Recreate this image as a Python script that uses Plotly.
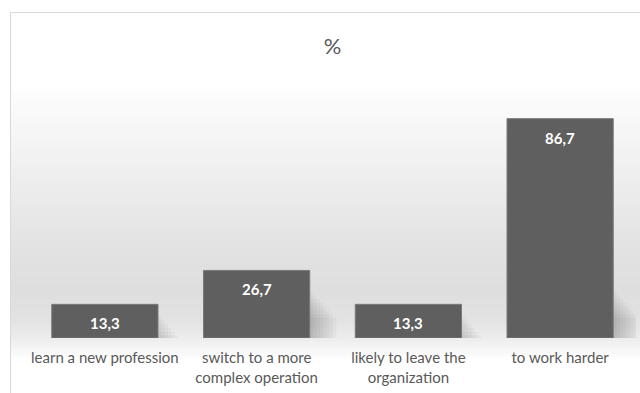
import numpy as np
import plotly.graph_objects as go

categories = ["learn a new profession", "switch to a more complex operation",
              "likely to leave the organization", "to work harder"]
tick_labels = ["learn a new profession", "switch to a more<br>complex operation",
               "likely to leave the<br>organization", "to work harder"]
values = [13.3, 26.7, 13.3, 86.7]

W, H = 640, 393
ML, MR, MT, MB = 29, 4, 85, 55
PW, PH = W - ML - MR, H - MT - MB


def px_y(py):
    return (H - MB - py) / PH


def px_x(px):
    return (px - ML) / PW


fig = go.Figure()
fig.add_trace(go.Bar(
    x=categories, y=values,
    marker=dict(color="#5f5f5f", line=dict(color="#7a7a7a", width=1)),
    hoverinfo="skip",
))

# data labels
for c, v in zip(categories, values):
    fig.add_annotation(x=c, y=v, text="<b>" + f"{v:.1f}".replace(".", ",") + "</b>",
                       showarrow=False, yshift=-19, yanchor="middle",
                       font=dict(family="Lato", size=15, color="white"))

shapes = []
# background gradient (style)
stops_py = [90, 150, 200, 250, 290, 320, 340, 352, 360]
stops_g = [253, 243, 234, 226, 222, 226, 238, 248, 255]
ys = np.arange(90, 360, 3)
for y0 in ys:
    g = int(round(np.interp(y0 + 1.5, stops_py, stops_g)))
    shapes.append(dict(type="rect", xref="paper", yref="paper",
                       x0=px_x(10), x1=px_x(645), y0=px_y(y0 + 3), y1=px_y(y0),
                       fillcolor=f"rgb({g},{g},{g})", line=dict(width=0), layer="below"))

# soft bar shadows (style), drawn beneath the bars
half = 0.35
for i, v in enumerate(values):
    top = min(v * 0.75, 20)
    for k in range(1, 9):
        shapes.append(dict(type="rect", xref="x", yref="y",
                           x0=i - half + 0.015 * k, x1=i + half + 0.022 * k,
                           y0=-0.6 * k, y1=top - 1.5 * k,
                           fillcolor="rgba(0,0,0,0.028)", line=dict(width=0),
                           layer="below"))

# chart border
shapes.append(dict(type="rect", xref="paper", yref="paper",
                   x0=px_x(10.5), x1=px_x(660), y0=px_y(400), y1=px_y(12.5),
                   line=dict(color="#d9d9d9", width=1), fillcolor="rgba(0,0,0,0)", layer="below"))

fig.update_layout(
    width=W, height=H,
    margin=dict(l=ML, r=MR, t=MT, b=MB),
    paper_bgcolor="white", plot_bgcolor="rgba(0,0,0,0)",
    bargap=0.30,
    showlegend=False,
    shapes=shapes,
    title=dict(text="%", x=0.5, xref="paper", y=1 - 46 / H, yref="container",
               xanchor="center", yanchor="middle",
               font=dict(family="Lato", size=22, color="#595959")),
    xaxis=dict(tickvals=categories, ticktext=tick_labels, ticks="", showline=False,
               showgrid=False, zeroline=False, ticklabelstandoff=9,
               range=[-0.5, len(categories) - 0.5],
               tickfont=dict(family="Lato", size=15, color="#595959")),
    yaxis=dict(range=[0, 100], visible=False, showgrid=False, zeroline=False),
)

fig.write_html("out.html")
